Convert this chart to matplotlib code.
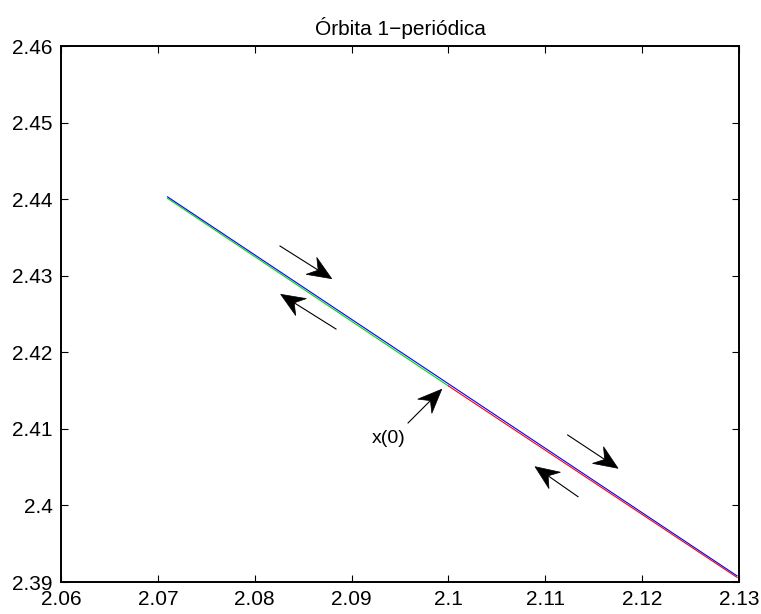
import matplotlib
matplotlib.use('Agg')
import matplotlib.pyplot as plt
import numpy as np
from matplotlib.patches import Polygon
from matplotlib.transforms import IdentityTransform

plt.rcParams['font.family'] = ['Liberation Sans', 'DejaVu Sans']

# orbit branches (nearly straight segments)
blue_x = [2.0710, 2.1298]
blue_y = [2.4403, 2.3908]
green_x = [2.0710, 2.1000]
green_y = [2.4401, 2.4156]
red_x = [2.1000, 2.1298]
red_y = [2.4156, 2.3906]

xticks = [2.06, 2.07, 2.08, 2.09, 2.1, 2.11, 2.12, 2.13]
yticks = [2.39, 2.4, 2.41, 2.42, 2.43, 2.44, 2.45, 2.46]
xtick_labels = ['2.06', '2.07', '2.08', '2.09', '2.1', '2.11', '2.12', '2.13']
ytick_labels = ['2.39', '2.4', '2.41', '2.42', '2.43', '2.44', '2.45', '2.46']

# annotation arrows: (tail, head)
arrows = [
    ((2.08261, 2.43388), (2.08795, 2.42961)),
    ((2.08839, 2.42304), (2.08268, 2.42757)),
    ((2.09583, 2.41077), (2.09931, 2.41517)),
    ((2.11231, 2.40920), (2.11751, 2.40485)),
    ((2.11338, 2.40114), (2.10894, 2.40506)),
]
label_text = 'x(0)'
label_pos = (2.0938, 2.4088)

fig = plt.figure(figsize=(7.61, 6.14), dpi=100)
ax = fig.add_axes([61/761, 32/614, 678/761, 536/614])

ax.plot(green_x, green_y, color=(0, 0.85, 0), lw=0.8)
ax.plot(red_x, red_y, color='red', lw=0.8)
ax.plot(blue_x, blue_y, color='blue', lw=0.8)

ax.set_xlim(2.06, 2.13)
ax.set_ylim(2.39, 2.46)


def matlab_arrow(tail, head, hl=24, hw=10, notch=16):
    # shaft in data coords, notched head built in pixels
    t = ax.transData.transform(tail)
    h = ax.transData.transform(head)
    d = (h - t) / np.hypot(*(h - t))
    p = np.array([-d[1], d[0]])
    back = h - d * notch
    ax.plot([t[0], back[0]], [t[1], back[1]], color='black', lw=0.8,
            transform=IdentityTransform())
    pts = [h, h - d * hl + p * hw, back, h - d * hl - p * hw]
    ax.add_patch(Polygon(pts, closed=True, facecolor='black', edgecolor='black',
                         lw=0.5, transform=IdentityTransform()))


for (tail, head) in arrows:
    matlab_arrow(tail, head)
ax.text(label_pos[0], label_pos[1], label_text, fontsize=14, ha='center', va='center')

ax.set_xticks(xticks)
ax.set_xticklabels(xtick_labels)
ax.set_yticks(yticks)
ax.set_yticklabels(ytick_labels)
ax.tick_params(direction='in', length=5, width=0.8, labelsize=15, pad=6,
               top=True, right=True)
for s in ax.spines.values():
    s.set_linewidth(1.4)
ax.set_title('Órbita 1−periódica', fontsize=15, pad=8)

fig.savefig('out.png', dpi=100)
